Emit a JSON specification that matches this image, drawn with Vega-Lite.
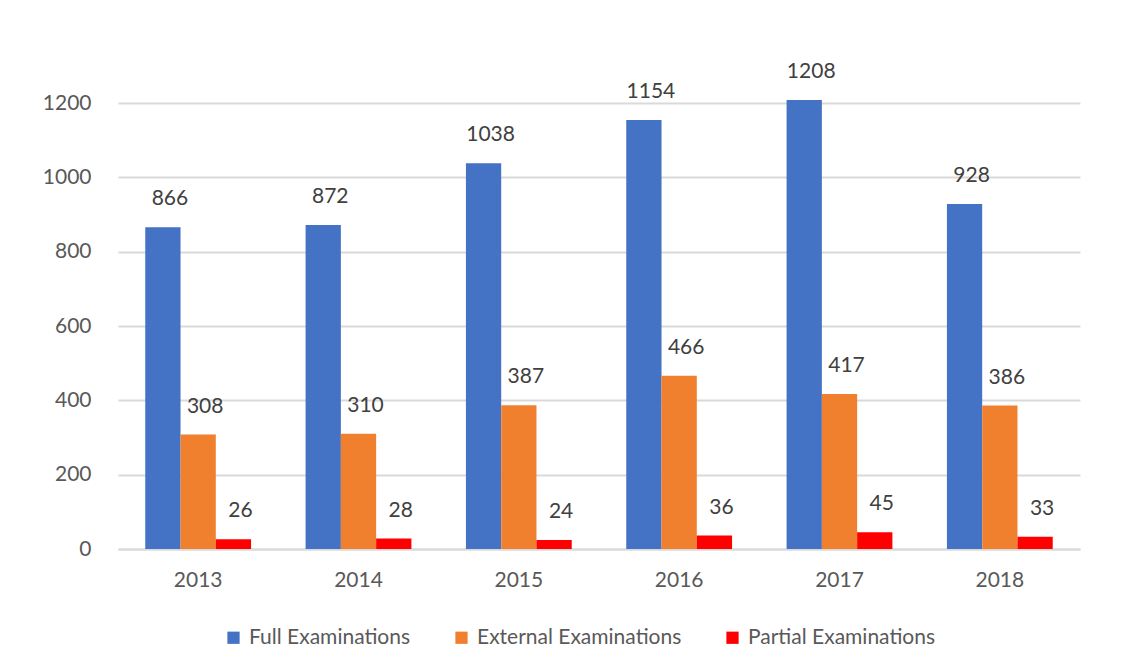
{
  "$schema": "https://vega.github.io/schema/vega-lite/v6.json",
  "autosize": {"type": "none"},
  "width": 962,
  "height": 446,
  "padding": {"left": 118, "top": 103, "right": 65, "bottom": 121},
  "background": "white",
  "config": {
    "font": "Lato",
    "view": {"stroke": null},
    "axis": {"labelFont": "Lato", "labelColor": "#595959", "labelFontSize": 21}
  },
  "data": {
    "values": [
      {"year": "2013", "type": "Full Examinations", "value": 866},
      {"year": "2013", "type": "External Examinations", "value": 308},
      {"year": "2013", "type": "Partial Examinations", "value": 26},
      {"year": "2014", "type": "Full Examinations", "value": 872},
      {"year": "2014", "type": "External Examinations", "value": 310},
      {"year": "2014", "type": "Partial Examinations", "value": 28},
      {"year": "2015", "type": "Full Examinations", "value": 1038},
      {"year": "2015", "type": "External Examinations", "value": 387},
      {"year": "2015", "type": "Partial Examinations", "value": 24},
      {"year": "2016", "type": "Full Examinations", "value": 1154},
      {"year": "2016", "type": "External Examinations", "value": 466},
      {"year": "2016", "type": "Partial Examinations", "value": 36},
      {"year": "2017", "type": "Full Examinations", "value": 1208},
      {"year": "2017", "type": "External Examinations", "value": 417},
      {"year": "2017", "type": "Partial Examinations", "value": 45},
      {"year": "2018", "type": "Full Examinations", "value": 928},
      {"year": "2018", "type": "External Examinations", "value": 386},
      {"year": "2018", "type": "Partial Examinations", "value": 33}
    ]
  },
  "encoding": {
    "x": {
      "field": "year", "type": "nominal",
      "scale": {"paddingInner": 0.34, "paddingOuter": 0.17},
      "axis": {"title": null, "labelAngle": 0, "ticks": false, "domain": true, "domainColor": "#D9D9D9", "domainWidth": 2, "labelPadding": 20}
    },
    "xOffset": {
      "field": "type", "type": "nominal",
      "sort": ["Full Examinations", "External Examinations", "Partial Examinations"],
      "scale": {"paddingInner": 0}
    },
    "y": {
      "field": "value", "type": "quantitative",
      "scale": {"domain": [0, 1200]},
      "axis": {"title": null, "values": [0, 200, 400, 600, 800, 1000, 1200], "format": "d", "labelOverlap": false, "domain": false, "ticks": false, "gridColor": "#D9D9D9", "gridWidth": 2, "labelPadding": 27}
    }
  },
  "layer": [
    {
      "mark": {"type": "bar"},
      "encoding": {
        "color": {
          "field": "type", "type": "nominal",
          "sort": ["Full Examinations", "External Examinations", "Partial Examinations"],
          "scale": {
            "domain": ["Full Examinations", "External Examinations", "Partial Examinations"],
            "range": ["#4472C4", "#F07F2E", "#FF0000"]
          },
          "legend": {
            "title": null, "orient": "none", "direction": "horizontal",
            "legendX": 105, "legendY": 524,
            "symbolType": "square", "symbolSize": 150, "symbolStrokeWidth": 0,
            "labelFontSize": 21, "labelColor": "#595959", "labelFont": "Lato", "labelLimit": 0,
            "columnPadding": 40, "labelOffset": 5
          }
        }
      }
    },
    {
      "mark": {"type": "text", "dy": -28, "dx": 7, "fontSize": 21, "color": "#404040", "font": "Lato"},
      "encoding": {
        "text": {"field": "value", "type": "quantitative"}
      }
    }
  ]
}
